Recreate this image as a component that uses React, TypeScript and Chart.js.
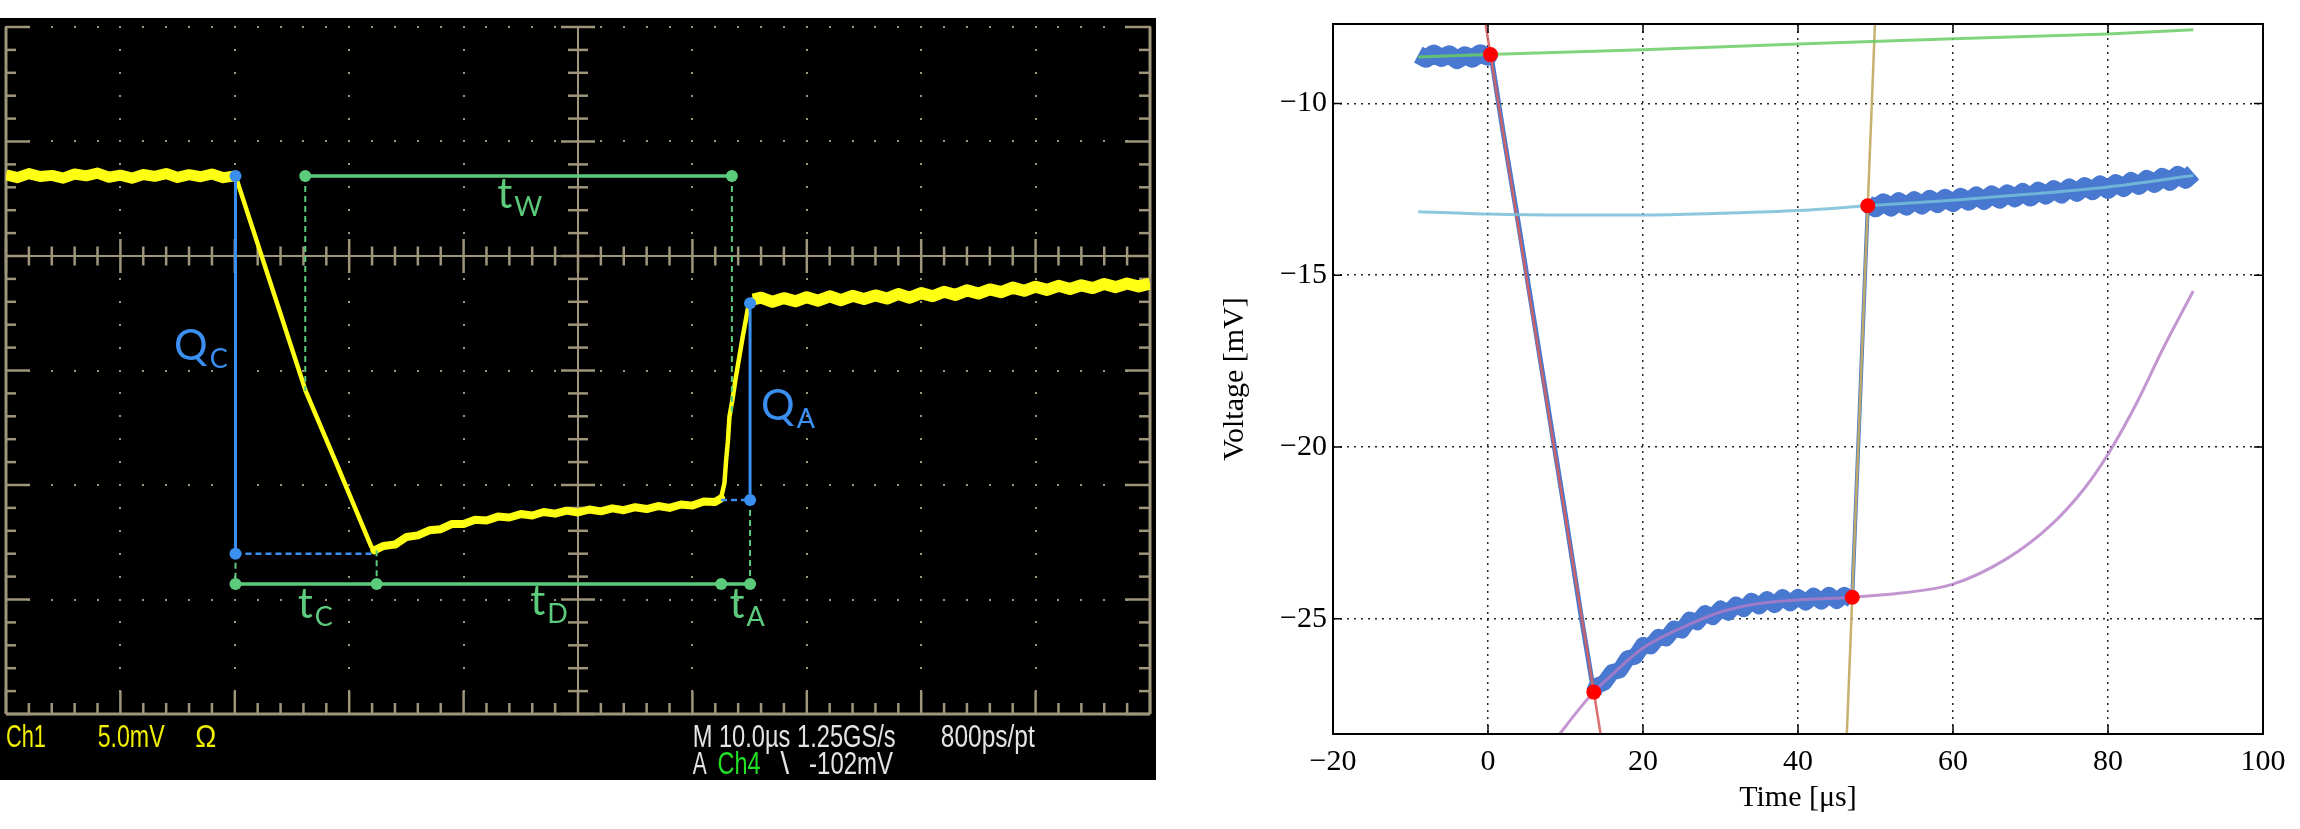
import { useEffect, useRef } from "react";
import { Chart, registerables } from "chart.js";

Chart.register(...registerables);

type Pt = [number, number];

// ---------------- oscilloscope screen (time in µs, voltage in mV from the centre line)
const SCOPE_T_RANGE = [0, 100];
const SCOPE_MV_RANGE = [-20, 10];
const SCOPE_T_DIV = 10;
const SCOPE_MV_DIV = 5;

const TRACE_START: Pt[] = [
  [0, 3.55], [1, 3.42], [2, 3.6], [3, 3.47], [4, 3.52], [5, 3.4], [6, 3.58], [7, 3.5],
  [8, 3.62], [9, 3.44], [10, 3.53], [11, 3.4], [12, 3.56], [13, 3.48], [14, 3.6],
  [15, 3.43], [16, 3.55], [17, 3.46], [18, 3.58], [19, 3.42], [20.06, 3.5],
];
const TRACE_FALL: Pt[] = [
  [20.06, 3.5], [23.1, -1.15], [26.2, -5.9], [29, -9.2], [31.92, -12.68], [32.2, -12.85],
];
const TRACE_RECOVERY: Pt[] = [
  [32.2, -12.85], [33, -12.66], [34, -12.6], [35, -12.27], [36, -12.2], [37, -11.98], [38, -11.93],
  [39, -11.7], [40, -11.7], [41, -11.52], [42, -11.55], [43, -11.38], [44, -11.42], [45, -11.27],
  [46, -11.33], [47, -11.18], [48, -11.25], [49, -11.12], [50, -11.2], [51, -11.07], [52, -11.15],
  [53, -11.02], [54, -11.1], [55, -10.97], [56, -11.05], [57, -10.92], [58, -11.0], [59, -10.85],
  [60, -10.9], [61, -10.72], [62, -10.74], [62.5, -10.58],
];
const TRACE_RISE: Pt[] = [
  [62.5, -10.58], [62.8, -9.92], [62.95, -8.9], [63.1, -8.1], [63.24, -7.01], [63.5, -6.28],
  [63.76, -5.41], [64.4, -3.52], [64.98, -1.95], [65.3, -1.9],
];
const TRACE_END: Pt[] = [
  [65.3, -1.9], [66, -1.82], [67, -2.0], [68, -1.84], [69, -1.98], [70, -1.8], [71, -1.95],
  [72, -1.76], [73, -1.93], [74, -1.74], [75, -1.88], [76, -1.72], [77, -1.86], [78, -1.66],
  [79, -1.82], [80, -1.62], [81, -1.76], [82, -1.56], [83, -1.7], [84, -1.5], [85, -1.64],
  [86, -1.46], [87, -1.58], [88, -1.38], [89, -1.52], [90, -1.34], [91, -1.48], [92, -1.3],
  [93, -1.44], [94, -1.28], [95, -1.4], [96, -1.22], [97, -1.36], [98, -1.2], [99, -1.33], [100, -1.2],
];

// annotation segments drawn on the screen
const BLUE_SOLID: Pt[][] = [
  [[20.06, 3.49], [20.06, -13.0]],
  [[65.04, -2.06], [65.04, -10.65]],
];
const BLUE_DASHED: Pt[][] = [
  [[20.06, -13.0], [32.1, -13.0]],
  [[62.5, -10.65], [65.04, -10.65]],
];
const GREEN_SOLID: Pt[][] = [
  [[26.16, 3.49], [63.45, 3.49]],
  [[20.06, -14.32], [32.4, -14.32], [62.52, -14.32], [65.04, -14.32]],
];
const GREEN_DASHED: Pt[][] = [
  [[26.16, 3.49], [26.16, -5.9]],
  [[63.45, 3.49], [63.45, -6.8]],
  [[20.06, -13.4], [20.06, -14.32]],
  [[32.4, -12.85], [32.4, -14.32]],
  [[65.04, -10.65], [65.04, -14.32]],
];

const SCOPE_LABELS = [
  { main: "Q", sub: "C", t: 14.69, mv: -4.54, color: "blue" },
  { main: "Q", sub: "A", t: 66.0, mv: -7.16, color: "blue" },
  { main: "t", sub: "W", t: 42.94, mv: 2.09, color: "green" },
  { main: "t", sub: "C", t: 25.5, mv: -15.79, color: "green" },
  { main: "t", sub: "D", t: 45.82, mv: -15.66, color: "green" },
  { main: "t", sub: "A", t: 63.24, mv: -15.79, color: "green" },
];

const STATUS_ROW1 = [
  { text: "Ch1", t: 0, w: 40, color: "#f0f000" },
  { text: "5.0mV", t: 8.01, w: 67, color: "#f0f000" },
  { text: "Ω", t: 16.55, w: 21, color: "#f0f000" },
  { text: "M 10.0µs 1.25GS/s", t: 60.02, w: 203, color: "#e4e4e4" },
  { text: "800ps/pt", t: 81.71, w: 94, color: "#e4e4e4" },
];
const STATUS_ROW2 = [
  { text: "A", t: 60.02, w: 14, color: "#e4e4e4" },
  { text: "Ch4", t: 62.2, w: 43, color: "#22e022" },
  { text: "\\", t: 67.7, w: 13, color: "#e4e4e4" },
  { text: "-102mV", t: 70.2, w: 84, color: "#e4e4e4" },
];

// ---------------- fit plot (time in µs, voltage in mV)
const X_RANGE = [-20, 100];
const Y_RANGE = [-28.35, -7.69];
const X_TICKS = [-20, 0, 20, 40, 60, 80, 100];
const Y_TICKS = [-25, -20, -15, -10];

const DATA_BEFORE: Pt[] = [
  [-9, -8.58], [-8, -8.7], [-7, -8.55], [-6, -8.68], [-5, -8.57], [-4, -8.74],
  [-3, -8.6], [-2, -8.7], [-1, -8.54], [0, -8.64], [0.3, -8.5],
];
const DATA_FALL: Pt[] = [
  [0.3, -8.5], [0.6, -8.9], [2, -10.9], [4, -13.6], [6, -16.4], [8, -19.2], [10, -22.0], [12, -24.9], [13.65, -27.13],
];
const DATA_RECOVERY: Pt[] = [
  [13.65, -27.13], [14, -26.95], [15, -26.86], [16, -26.55], [17, -26.5], [18, -26.15], [19, -26.1],
  [20, -25.76], [21, -25.8], [22, -25.52], [23, -25.57], [24, -25.28], [25, -25.34], [26, -25.02],
  [27, -25.1], [28, -24.83], [29, -24.95], [30, -24.7], [31, -24.82], [32, -24.58], [33, -24.72],
  [34, -24.47], [35, -24.64], [36, -24.42], [37, -24.6], [38, -24.36], [39, -24.55], [40, -24.36],
  [41, -24.53], [42, -24.32], [43, -24.5], [44, -24.3], [45, -24.48], [46, -24.3], [47, -24.45],
];
const DATA_RISE: Pt[] = [
  [47, -24.37], [47.5, -21.52], [48, -18.68], [48.5, -15.83], [49, -12.98],
];
const DATA_AFTER: Pt[] = [
  [49, -12.93], [50, -13.05], [51, -12.88], [52, -13.03], [53, -12.85], [54, -13.0], [55, -12.82],
  [56, -12.97], [57, -12.78], [58, -12.93], [59, -12.75], [60, -12.9], [61, -12.72], [62, -12.86],
  [63, -12.68], [64, -12.84], [65, -12.65], [66, -12.8], [67, -12.62], [68, -12.76], [69, -12.58],
  [70, -12.74], [71, -12.54], [72, -12.68], [73, -12.5], [74, -12.65], [75, -12.45], [76, -12.6],
  [77, -12.41], [78, -12.55], [79, -12.36], [80, -12.52], [81, -12.32], [82, -12.46], [83, -12.26],
  [84, -12.4], [85, -12.2], [86, -12.34], [87, -12.14], [88, -12.28], [89, -12.08], [90, -12.22], [91, -12.02],
];

const FIT_BASELINE: Pt[] = [[-9, -8.65], [0, -8.58], [20, -8.44], [40, -8.27], [60, -8.12], [80, -7.98], [91, -7.86]];
const FIT_AFTER: Pt[] = [
  [-9, -13.15], [0, -13.22], [10, -13.25], [20, -13.25], [30, -13.2], [40, -13.12], [49, -12.98],
  [60, -12.82], [70, -12.64], [80, -12.43], [91, -12.1],
];
const FIT_FALL: Pt[] = [[-0.32, -7.69], [14.53, -28.35]];
const FIT_RISE: Pt[] = [[46.3, -28.35], [49.93, -7.69]];
const FIT_RECOVERY: Pt[] = [
  [9.25, -28.35], [11.5, -27.7], [13.65, -27.13], [16.6, -26.5], [20, -25.85], [25, -25.26], [30, -24.8],
  [35, -24.55], [40, -24.45], [47, -24.37], [53.3, -24.25], [60, -23.99], [67, -23.24], [72.6, -22.28],
  [76.9, -21.22], [80, -20.21], [83.7, -18.72], [87.2, -17.09], [91, -15.46],
];
const CROSSINGS: Pt[] = [[0.32, -8.58], [13.65, -27.13], [47.0, -24.37], [49.0, -12.98]];

const xy = (pts: Pt[]) => pts.map(([x, y]) => ({ x, y }));

const SCOPE_BLUE = "#3a8ff0";
const SCOPE_GREEN = "#5ccb7c";
const SCOPE_YELLOW = "#ffff14";
const GRAT = "#9e957a";
const DATA_BLUE = "#4878cf";

const ScopeScreen = () => {
  const canvasRef = useRef<HTMLCanvasElement | null>(null);

  useEffect(() => {
    if (!canvasRef.current) return;
    const ctx = canvasRef.current.getContext("2d");
    if (!ctx) return;

    const seg = (pts: Pt[], color: string, width: number, extra: any = {}) => ({
      data: xy(pts),
      showLine: true,
      borderColor: color,
      backgroundColor: color,
      borderWidth: width,
      pointRadius: 0,
      borderJoinStyle: "round",
      borderCapStyle: "round",
      ...extra,
    });

    const withDots = { pointRadius: 6, pointBorderWidth: 0, order: 0, borderCapStyle: "butt" };
    const dashed = { borderDash: [6, 4], order: 1, borderCapStyle: "butt" };

    const graticule = {
      id: "graticule",
      beforeDraw(chart: any) {
        const c = chart.ctx;
        c.save();
        c.fillStyle = "#000";
        c.fillRect(0, 0, chart.width, chart.height);
        c.restore();
      },
      beforeDatasetsDraw(chart: any) {
        const { ctx: c, chartArea: a, scales } = chart;
        const x = scales.x;
        const y = scales.y;
        const [t0, t1] = SCOPE_T_RANGE;
        const [v0, v1] = SCOPE_MV_RANGE;
        const nT = (t1 - t0) / SCOPE_T_DIV;
        const nV = (v1 - v0) / SCOPE_MV_DIV;
        const tStep = SCOPE_T_DIV / 5;
        const vStep = SCOPE_MV_DIV / 5;
        const tc = (t0 + t1) / 2;
        c.save();
        c.fillStyle = GRAT;
        c.strokeStyle = GRAT;
        const dot = (px: number, py: number) => c.fillRect(Math.round(px) - 1, Math.round(py) - 1, 2, 2);
        const line = (ax: number, ay: number, bx: number, by: number) => {
          c.beginPath();
          c.moveTo(ax, ay);
          c.lineTo(bx, by);
          c.stroke();
        };
        for (let i = 1; i < nT; i++) {
          const t = t0 + i * SCOPE_T_DIV;
          if (t === tc) continue;
          const px = x.getPixelForValue(t);
          for (let j = 0; j <= nV * 5; j++) dot(px, y.getPixelForValue(v0 + j * vStep));
        }
        for (let k = 1; k <= nV; k++) {
          const v = v0 + k * SCOPE_MV_DIV;
          if (v === 0) continue;
          const py = y.getPixelForValue(v);
          for (let j = 0; j <= nT * 5; j++) dot(x.getPixelForValue(t0 + j * tStep), py);
        }
        // centre cross with ticks
        const cx = x.getPixelForValue(tc);
        const cy = y.getPixelForValue(0);
        c.lineWidth = 2;
        line(a.left, cy, a.right, cy);
        line(cx, a.top, cx, a.bottom);
        c.lineWidth = 2.5;
        for (let j = 0; j <= nT * 5; j++) {
          const px = x.getPixelForValue(t0 + j * tStep);
          const len = j % 5 === 0 ? 17 : 9.5;
          line(px, cy - len, px, cy + len);
          const blen = j % 5 === 0 ? 23 : 11;
          line(px, a.bottom - blen, px, a.bottom);
        }
        for (let j = 0; j <= nV * 5; j++) {
          const py = y.getPixelForValue(v0 + j * vStep);
          const major = j % 5 === 0;
          const len = major ? 17 : 10;
          line(cx - len, py, cx + len, py);
          line(a.left, py, a.left + (major ? 24 : 10), py);
          line(a.right - (major ? 25 : 11), py, a.right, py);
        }
        // frame
        c.lineWidth = 3;
        line(a.left, a.top, a.left, a.bottom);
        line(a.right, a.top, a.right, a.bottom);
        line(a.left, a.bottom, a.right, a.bottom);
        c.restore();
      },
      afterDatasetsDraw(chart: any) {
        const { ctx: c, scales } = chart;
        c.save();
        c.textBaseline = "alphabetic";
        c.textAlign = "left";
        for (const l of SCOPE_LABELS) {
          const px = scales.x.getPixelForValue(l.t);
          const py = scales.y.getPixelForValue(l.mv);
          c.fillStyle = l.color === "blue" ? SCOPE_BLUE : SCOPE_GREEN;
          c.font = "42px Lato, 'Open Sans', sans-serif";
          c.fillText(l.main, px, py);
          const w = c.measureText(l.main).width;
          c.font = "27px Lato, 'Open Sans', sans-serif";
          c.fillText(l.sub, px + w + 2, py + 8);
        }
        c.restore();
      },
      afterDraw(chart: any) {
        const { ctx: c, chartArea: a, scales } = chart;
        c.save();
        c.textAlign = "left";
        c.textBaseline = "alphabetic";
        c.font = "31px 'Liberation Sans Narrow', 'Liberation Sans', sans-serif";
        const rows = [STATUS_ROW1, STATUS_ROW2];
        rows.forEach((row, r) => {
          const base = a.bottom + 33 + r * 27;
          for (const s of row) {
            c.fillStyle = s.color;
            c.fillText(s.text, scales.x.getPixelForValue(s.t), base, s.w);
          }
        });
        c.restore();
      },
    };

    const chart = new Chart(ctx, {
      type: "scatter",
      data: {
        datasets: [
          ...BLUE_SOLID.map((p) => seg(p, SCOPE_BLUE, 3, withDots)),
          ...GREEN_SOLID.map((p) => seg(p, SCOPE_GREEN, 3.5, withDots)),
          ...BLUE_DASHED.map((p) => seg(p, SCOPE_BLUE, 2.5, dashed)),
          ...GREEN_DASHED.map((p) => seg(p, SCOPE_GREEN, 2, dashed)),
          seg(TRACE_START, SCOPE_YELLOW, 11, { order: 5, borderCapStyle: "butt" }),
          seg(TRACE_FALL, SCOPE_YELLOW, 4.5, { order: 5 }),
          seg(TRACE_RECOVERY, SCOPE_YELLOW, 8, { order: 5 }),
          seg(TRACE_RISE, SCOPE_YELLOW, 4.5, { order: 5 }),
          seg(TRACE_END, SCOPE_YELLOW, 12, { order: 5, borderCapStyle: "butt" }),
        ] as any,
      },
      options: {
        animation: false,
        responsive: false,
        events: [],
        layout: { padding: { left: 4, right: 4, top: 9, bottom: 66 } },
        plugins: { legend: { display: false }, tooltip: { enabled: false } },
        scales: {
          x: { type: "linear", display: false, min: SCOPE_T_RANGE[0], max: SCOPE_T_RANGE[1] },
          y: { type: "linear", display: false, min: SCOPE_MV_RANGE[0], max: SCOPE_MV_RANGE[1] },
        },
      },
      plugins: [graticule],
    });

    return () => {
      chart.destroy();
    };
  }, []);

  return (
    <canvas
      ref={canvasRef}
      width={1156}
      height={762}
      style={{ position: "absolute", left: 0, top: 18, width: 1156, height: 762 }}
    />
  );
};

const fmtTick = (v: number) => (v < 0 ? "\u2212" + Math.abs(v) : String(v));

const FitPlot = () => {
  const canvasRef = useRef<HTMLCanvasElement | null>(null);

  useEffect(() => {
    if (!canvasRef.current) return;
    const ctx = canvasRef.current.getContext("2d");
    if (!ctx) return;

    const seg = (pts: Pt[], color: string, width: number, extra: any = {}) => ({
      data: xy(pts),
      showLine: true,
      borderColor: color,
      backgroundColor: color,
      borderWidth: width,
      pointRadius: 0,
      borderJoinStyle: "round",
      borderCapStyle: "butt",
      ...extra,
    });

    const serif = "'Liberation Serif', 'DejaVu Serif', serif";

    const frame = {
      id: "frame",
      afterDraw(chart: any) {
        const { ctx: c, chartArea: a, scales } = chart;
        c.save();
        c.strokeStyle = "#000";
        c.lineWidth = 1.5;
        for (const t of X_TICKS) {
          const px = scales.x.getPixelForValue(t);
          c.beginPath();
          c.moveTo(px, a.bottom);
          c.lineTo(px, a.bottom - 9);
          c.moveTo(px, a.top);
          c.lineTo(px, a.top + 9);
          c.stroke();
        }
        for (const v of Y_TICKS) {
          const py = scales.y.getPixelForValue(v);
          c.beginPath();
          c.moveTo(a.left, py);
          c.lineTo(a.left + 9, py);
          c.moveTo(a.right, py);
          c.lineTo(a.right - 9, py);
          c.stroke();
        }
        c.lineWidth = 2;
        c.strokeRect(a.left, a.top, a.right - a.left, a.bottom - a.top);
        c.restore();
      },
    };

    const chart = new Chart(ctx, {
      type: "scatter",
      data: {
        datasets: [
          { data: xy(CROSSINGS), showLine: false, pointRadius: 7.5, pointBackgroundColor: "#ff0000", pointBorderWidth: 0, order: 0 },
          seg(FIT_BASELINE, "rgba(106,204,101,0.85)", 3, { order: 1 }),
          seg(FIT_AFTER, "rgba(119,190,219,0.85)", 3, { order: 1, cubicInterpolationMode: "monotone" }),
          seg(FIT_FALL, "rgba(214,95,95,0.9)", 2.5, { order: 1 }),
          seg(FIT_RISE, "rgba(196,173,102,0.95)", 2.5, { order: 1 }),
          seg(FIT_RECOVERY, "rgba(180,124,199,0.8)", 3, { order: 1, cubicInterpolationMode: "monotone" }),
          seg(DATA_BEFORE, DATA_BLUE, 18, { order: 2 }),
          seg(DATA_FALL, DATA_BLUE, 5, { order: 2, borderCapStyle: "round" }),
          seg(DATA_RECOVERY, DATA_BLUE, 16, { order: 2 }),
          seg(DATA_RISE, DATA_BLUE, 4, { order: 2, borderCapStyle: "round" }),
          seg(DATA_AFTER, DATA_BLUE, 18, { order: 2 }),
        ] as any,
      },
      options: {
        animation: false,
        responsive: false,
        events: [],
        layout: { padding: { left: 0, right: 37, top: 16, bottom: 0 } },
        plugins: { legend: { display: false }, tooltip: { enabled: false } },
        scales: {
          x: {
            type: "linear",
            min: X_RANGE[0],
            max: X_RANGE[1],
            afterBuildTicks: (s: any) => {
              s.ticks = X_TICKS.map((value) => ({ value }));
            },
            afterFit: (s: any) => {
              s.height = 95;
            },
            grid: { color: "rgba(0,0,0,0.85)", lineWidth: 1.5, drawTicks: false },
            border: { display: false, dash: [2, 5] },
            ticks: {
              color: "#000",
              padding: 10,
              maxRotation: 0,
              font: { family: serif, size: 30 },
              callback: (v: any) => fmtTick(Number(v)),
            },
            title: {
              display: true,
              text: "Time [μs]",
              color: "#000",
              font: { family: serif, size: 30 },
              padding: { top: 0, bottom: 13 },
            },
          },
          y: {
            type: "linear",
            min: Y_RANGE[0],
            max: Y_RANGE[1],
            afterBuildTicks: (s: any) => {
              s.ticks = Y_TICKS.map((value) => ({ value }));
            },
            afterFit: (s: any) => {
              s.width = 153;
            },
            grid: { color: "rgba(0,0,0,0.85)", lineWidth: 1.5, drawTicks: false },
            border: { display: false, dash: [2, 5] },
            ticks: {
              color: "#000",
              padding: 6,
              font: { family: serif, size: 30 },
              callback: (v: any) => fmtTick(Number(v)),
            },
            title: {
              display: true,
              text: "Voltage [mV]",
              color: "#000",
              font: { family: serif, size: 30 },
              padding: { top: 37, bottom: 0 },
            },
          },
        },
      },
      plugins: [frame],
    });

    return () => {
      chart.destroy();
    };
  }, []);

  return (
    <canvas
      ref={canvasRef}
      width={1120}
      height={829}
      style={{ position: "absolute", left: 1180, top: 0, width: 1120, height: 829 }}
    />
  );
};

export default function App() {
  return (
    <div
      style={{
        position: "absolute",
        left: 0,
        top: 0,
        width: 2300,
        height: 829,
        background: "#fff",
        overflow: "hidden",
      }}
    >
      <ScopeScreen />
      <FitPlot />
    </div>
  );
}
